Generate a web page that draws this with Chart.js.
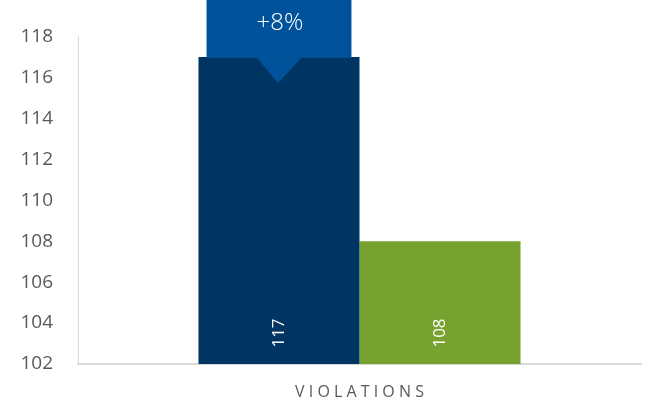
<!DOCTYPE html>
<html>
<head>
<meta charset="utf-8">
<script src="https://cdn.jsdelivr.net/npm/chart.js@4"></script>
<style>
html,body{margin:0;padding:0;background:#fff;}
#wrap{width:645px;height:407px;position:relative;}
</style>
</head>
<body>
<div id="wrap"><canvas id="c"></canvas></div>
<script>
const categories=['VIOLATIONS'];
const seriesNames=['Previous','Current'];
const previousValues=[117];
const currentValues=[108];
const yTicks=[102,104,106,108,110,112,114,116,118];

const navy='#003462';
const green='#78A22F';
const calloutBlue='#00529B';
const FONT='"Open Sans", sans-serif';

// bar value labels, rotated, at the bottom of each bar
const barLabels={
  id:'barLabels',
  afterDraw(chart){
    const ctx=chart.ctx;
    const base=chart.chartArea.bottom;
    chart.data.datasets.forEach((ds,i)=>{
      chart.getDatasetMeta(i).data.forEach((bar,j)=>{
        ctx.save();
        ctx.translate(bar.x,base-31);
        ctx.rotate(-Math.PI/2);
        ctx.fillStyle='#ffffff';
        ctx.font='17px '+FONT;
        ctx.textAlign='center';
        ctx.textBaseline='middle';
        ctx.fillText(String(ds.data[j]),0,0);
        ctx.restore();
      });
    });
  }
};

// "+8%" callout over the first bar
const callout={
  id:'callout',
  afterDatasetsDraw(chart){
    const ctx=chart.ctx;
    const bar=chart.getDatasetMeta(0).data[0];
    const a=previousValues[0],b=currentValues[0];
    const pct=Math.round((a-b)/b*100);
    const w=bar.width*0.9;
    const x0=bar.x-w/2;
    const bottom=bar.y+1;
    ctx.save();
    ctx.fillStyle=calloutBlue;
    ctx.fillRect(x0,0,w,bottom);
    ctx.beginPath();
    ctx.moveTo(bar.x-22,bottom);
    ctx.lineTo(bar.x+22,bottom);
    ctx.lineTo(bar.x-1,bottom+25);
    ctx.closePath();
    ctx.fill();
    ctx.fillStyle='#fff';
    ctx.font='300 24px '+FONT;
    ctx.textAlign='center';
    ctx.textBaseline='middle';
    ctx.fillText((pct>=0?'+':'')+pct+'%',bar.x+1,23);
    ctx.restore();
  }
};

new Chart(document.getElementById('c'),{
  type:'bar',
  data:{
    labels:categories,
    datasets:[
      {label:seriesNames[0],data:previousValues,backgroundColor:navy},
      {label:seriesNames[1],data:currentValues,backgroundColor:green}
    ]
  },
  options:{
    responsive:true,
    maintainAspectRatio:false,
    animation:false,
    devicePixelRatio:1,
    categoryPercentage:0.572,
    barPercentage:1,
    layout:{padding:{top:24,right:4,left:0,bottom:0}},
    plugins:{legend:{display:false},tooltip:{enabled:false}},
    scales:{
      x:{
        afterFit(s){s.height=43;},
        grid:{display:false,drawTicks:false},
        border:{display:true,color:'#d9d9d9',width:2},
        ticks:{
          color:'#595959',
          font:{family:FONT,size:16},
          padding:19,
          callback(v){return this.getLabelForValue(v).split('').join(' ');}
        }
      },
      y:{
        min:yTicks[0],
        max:yTicks[yTicks.length-1],
        afterBuildTicks(s){s.ticks=yTicks.map(v=>({value:v}));},
        afterFit(s){s.width=78;},
        grid:{display:false,drawTicks:false},
        border:{display:true,color:'#d9d9d9',width:1},
        ticks:{color:'#595959',font:{family:FONT,size:19},padding:25}
      }
    }
  },
  plugins:[barLabels,callout]
});
</script>
</body>
</html>
